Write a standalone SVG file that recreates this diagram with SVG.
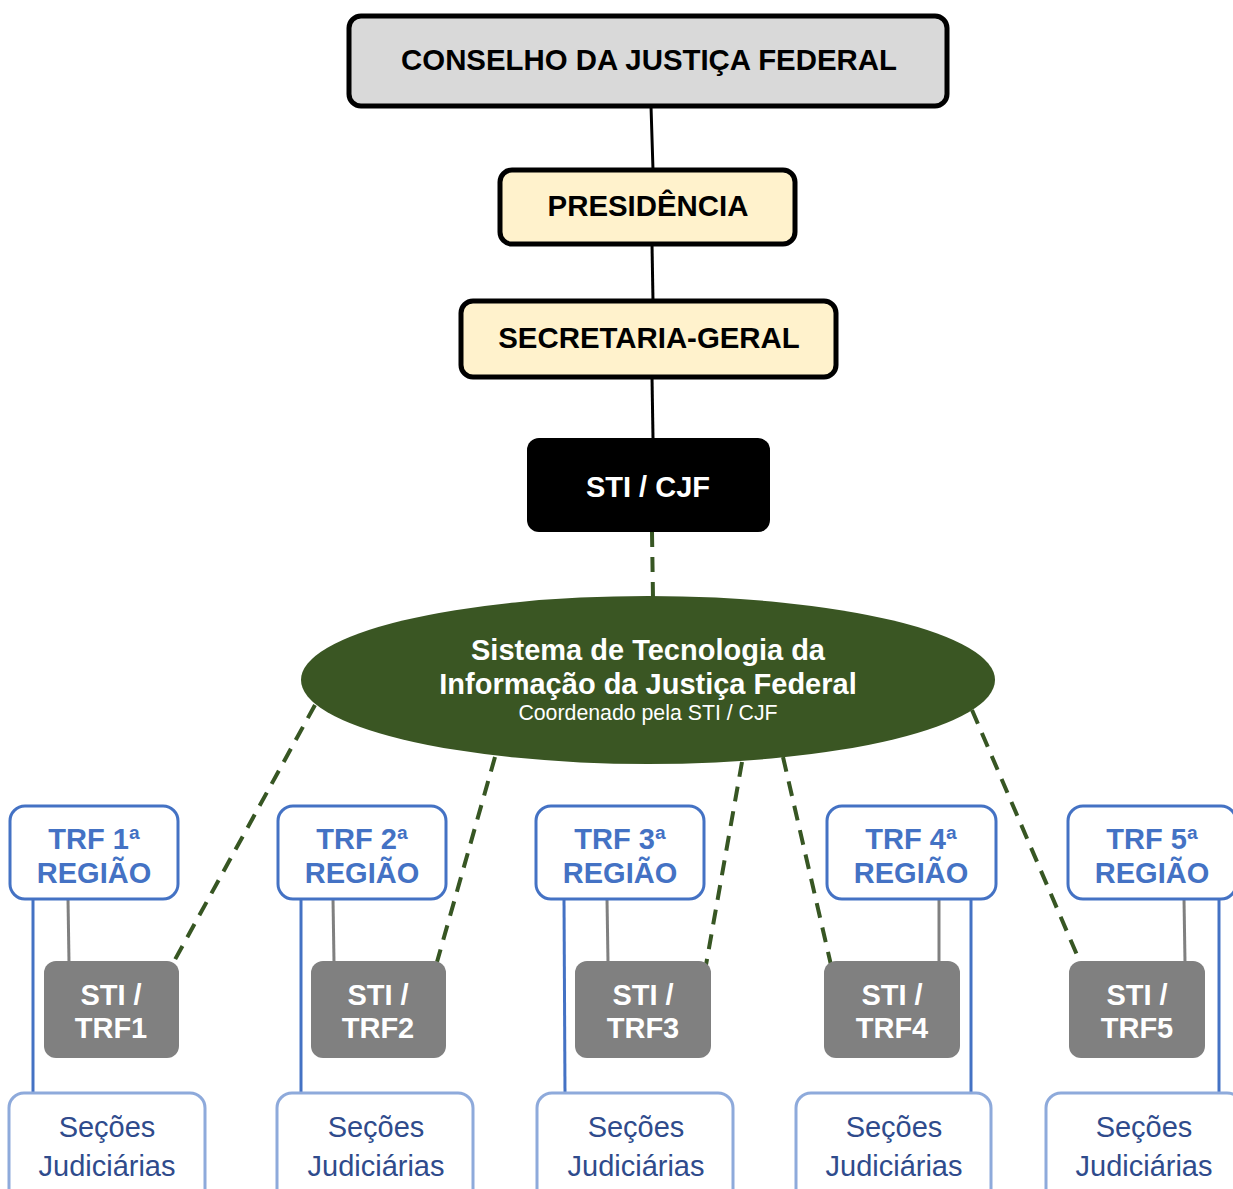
<svg xmlns="http://www.w3.org/2000/svg" width="1233" height="1189" viewBox="0 0 1233 1189">
<style>
text{font-family:"Liberation Sans",Arial,sans-serif;text-anchor:middle}
.top{stroke:#000;stroke-width:5}
.t1{font-size:29.4px;font-weight:bold;fill:#000}
.tw{font-size:29px;font-weight:bold;fill:#fff}
.trf rect{fill:#fff;stroke:#4472c4;stroke-width:3}
.trf text{font-size:29px;font-weight:bold;fill:#4472c4}
.sti rect{fill:#808080}
.sti text{font-size:29px;font-weight:bold;fill:#fff}
.sec rect{fill:#fff;stroke:#8eaadb;stroke-width:3}
.sec text{font-size:29px;fill:#2f4b8c}
.solid{stroke:#000;stroke-width:3}
.dash{stroke:#375623;stroke-width:4;stroke-dasharray:15 10;fill:none}
.gl{stroke:#808080;stroke-width:3}
.bl{stroke:#4472c4;stroke-width:3}
</style>
<g id="connectors">
<line class="solid" x1="651" y1="106" x2="653" y2="170"/>
<line class="solid" x1="652" y1="244" x2="653" y2="301"/>
<line class="solid" x1="652" y1="377" x2="653" y2="438"/>
<line class="dash" x1="652" y1="532" x2="653" y2="598"/>
<line class="dash" x1="315" y1="705" x2="172" y2="965"/>
<line class="dash" x1="495" y1="757" x2="437" y2="962"/>
<line class="dash" x1="742" y1="762" x2="706" y2="965"/>
<line class="dash" x1="783" y1="757" x2="831" y2="965"/>
<line class="dash" x1="972" y1="710" x2="1080" y2="962"/>
<line class="gl" x1="68" y1="899" x2="69" y2="962"/>
<line class="gl" x1="333" y1="899" x2="334" y2="962"/>
<line class="gl" x1="607" y1="899" x2="608" y2="962"/>
<line class="gl" x1="939" y1="899" x2="939" y2="962"/>
<line class="gl" x1="1184" y1="899" x2="1185" y2="962"/>
<line class="bl" x1="33" y1="899" x2="33" y2="1093"/>
<line class="bl" x1="301" y1="899" x2="301" y2="1093"/>
<line class="bl" x1="564" y1="899" x2="565" y2="1093"/>
<line class="bl" x1="971" y1="899" x2="971" y2="1093"/>
<line class="bl" x1="1219" y1="899" x2="1219" y2="1093"/>
</g>
<g id="cjf">
<rect class="top" x="349" y="16" width="598" height="90" rx="12" fill="#d9d9d9"/>
<text class="t1" x="649" y="70">CONSELHO DA JUSTIÇA FEDERAL</text>
</g>
<g id="presidencia">
<rect class="top" x="500" y="170" width="295" height="74" rx="12" fill="#fff2cc"/>
<text class="t1" x="648" y="216">PRESIDÊNCIA</text>
</g>
<g id="secretaria">
<rect class="top" x="461" y="301" width="375" height="76" rx="12" fill="#fff2cc"/>
<text class="t1" x="649" y="348">SECRETARIA-GERAL</text>
</g>
<g id="sticjf">
<rect x="527" y="438" width="243" height="94" rx="12" fill="#000"/>
<text class="tw" x="648" y="497">STI / CJF</text>
</g>
<g id="sistema">
<ellipse cx="648" cy="680" rx="347" ry="84" fill="#3a5623"/>
<text x="648" y="660" style="font-size:29px;font-weight:bold;fill:#fff">Sistema de Tecnologia da</text>
<text x="648" y="694" style="font-size:29px;font-weight:bold;fill:#fff">Informação da Justiça Federal</text>
<text x="648" y="720" style="font-size:21.3px;fill:#fff">Coordenado pela STI / CJF</text>
</g>
<g id="trf1" class="trf"><rect x="10" y="806" width="168" height="93" rx="15"/><text x="94" y="849">TRF 1ª</text><text x="94" y="883">REGIÃO</text></g>
<g id="trf2" class="trf"><rect x="278" y="806" width="168" height="93" rx="15"/><text x="362" y="849">TRF 2ª</text><text x="362" y="883">REGIÃO</text></g>
<g id="trf3" class="trf"><rect x="536" y="806" width="168" height="93" rx="15"/><text x="620" y="849">TRF 3ª</text><text x="620" y="883">REGIÃO</text></g>
<g id="trf4" class="trf"><rect x="827" y="806" width="169" height="93" rx="15"/><text x="911" y="849">TRF 4ª</text><text x="911" y="883">REGIÃO</text></g>
<g id="trf5" class="trf"><rect x="1068" y="806" width="168" height="93" rx="15"/><text x="1152" y="849">TRF 5ª</text><text x="1152" y="883">REGIÃO</text></g>
<g id="sti1" class="sti"><rect x="44" y="961" width="135" height="97" rx="12"/><text x="111" y="1005">STI /</text><text x="111" y="1038">TRF1</text></g>
<g id="sti2" class="sti"><rect x="311" y="961" width="135" height="97" rx="12"/><text x="378" y="1005">STI /</text><text x="378" y="1038">TRF2</text></g>
<g id="sti3" class="sti"><rect x="575" y="961" width="136" height="97" rx="12"/><text x="643" y="1005">STI /</text><text x="643" y="1038">TRF3</text></g>
<g id="sti4" class="sti"><rect x="824" y="961" width="136" height="97" rx="12"/><text x="892" y="1005">STI /</text><text x="892" y="1038">TRF4</text></g>
<g id="sti5" class="sti"><rect x="1069" y="961" width="136" height="97" rx="12"/><text x="1137" y="1005">STI /</text><text x="1137" y="1038">TRF5</text></g>
<g id="sec1" class="sec"><rect x="9" y="1093" width="196" height="120" rx="15"/><text x="107" y="1137">Seções</text><text x="107" y="1176">Judiciárias</text></g>
<g id="sec2" class="sec"><rect x="277" y="1093" width="196" height="120" rx="15"/><text x="376" y="1137">Seções</text><text x="376" y="1176">Judiciárias</text></g>
<g id="sec3" class="sec"><rect x="537" y="1093" width="196" height="120" rx="15"/><text x="636" y="1137">Seções</text><text x="636" y="1176">Judiciárias</text></g>
<g id="sec4" class="sec"><rect x="796" y="1093" width="195" height="120" rx="15"/><text x="894" y="1137">Seções</text><text x="894" y="1176">Judiciárias</text></g>
<g id="sec5" class="sec"><rect x="1046" y="1093" width="196" height="120" rx="15"/><text x="1144" y="1137">Seções</text><text x="1144" y="1176">Judiciárias</text></g>
</svg>
